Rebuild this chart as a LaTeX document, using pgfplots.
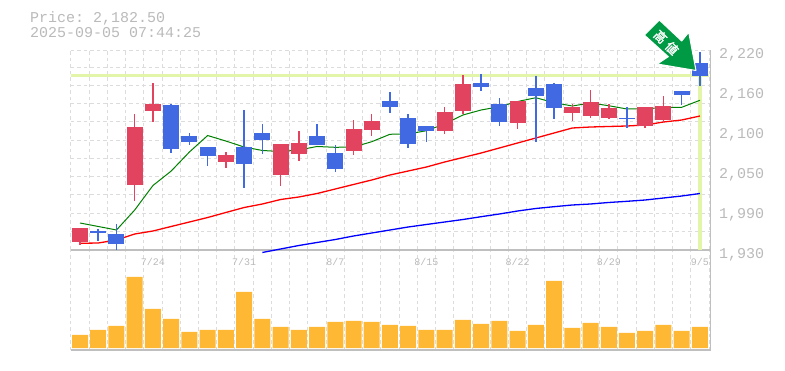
\documentclass[border=0pt]{standalone}
\usepackage{fontspec}
\usepackage{pgfplots}
\usepackage{pgfplotstable}
\pgfplotsset{compat=1.18}
\setmainfont{Liberation Mono}
\newfontfamily\cjk{Noto Sans CJK JP}[FakeBold=1.5,LetterSpace=30]
\definecolor{lab}{HTML}{BABABA}
\definecolor{gridc}{HTML}{DCDCDC}
\definecolor{axc}{HTML}{BFBFBF}
\definecolor{upc}{HTML}{E2435F}
\definecolor{dnc}{HTML}{4169E1}
\definecolor{volc}{HTML}{FFB833}
\definecolor{pricec}{HTML}{E3F5A8}
\definecolor{arrowc}{HTML}{009944}

\pgfplotstableread{
i open close low high
0 1941.6 1961.9 1937.3 1961.9
3 2024.25 2108.35 2001.05 2127.2
4 2131.55 2141.7 2115.6 2172.15
8 2057.6 2067.75 2048.9 2072.1
11 2038.75 2083.7 2022.8 2083.7
12 2069.2 2085.15 2059.05 2102.55
15 2073.55 2105.45 2067.75 2118.5
16 2104 2117.05 2095.3 2127.2
20 2102.55 2130.1 2098.2 2137.35
21 2131.55 2170.7 2127.2 2183.75
24 2114.15 2146.05 2105.45 2146.05
27 2128.65 2137.35 2117.05 2141.7
28 2124.3 2144.6 2121.4 2162
29 2121.4 2135.9 2119.95 2141.7
31 2109.8 2137.35 2106.9 2137.35
32 2118.5 2138.8 2115.6 2153.3
}\upcandles
\pgfplotstableread{
i open close low high
1 1957.6 1954.7 1943.1 1960.5
2 1953.2 1938.7 1930 1967.7
5 2140.25 2076.45 2070.65 2141.7
6 2095.3 2086.6 2082.25 2099.65
7 2079.35 2066.3 2051.8 2079.35
9 2079.35 2054.7 2019.9 2133
10 2099.65 2089.5 2069.2 2112.7
13 2095.3 2082.25 2082.25 2112.7
14 2070.65 2047.45 2043.1 2082.25
17 2146.05 2137.35 2128.65 2159.1
18 2121.4 2083.7 2077.9 2127.2
19 2109.8 2102.55 2086.6 2109.8
22 2172.15 2166.35 2160.55 2185.2
23 2141.7 2115.6 2109.8 2150.4
25 2164.9 2153.3 2086.6 2182.3
26 2170.7 2135.9 2119.95 2172.15
30 2122.1 2119.95 2106.9 2137.35
33 2160.55 2154.75 2140.25 2160.55
34 2201.15 2182.3 2167.8 2217.1
}\downcandles
\pgfplotstableread{
i green red
0 1969.15 1939.7
1 1964.1 1940.15
2 1959 1944.5
3 1988 1953.2
4 2023.5 1957.55
5 2044.5 1964.1
6 2072.1 1970.6
7 2096 1977.1
8 2088 1984.4
9 2079.35 1991.6
10 2074.3 1996.7
11 2072.8 2003.2
12 2075 2006.85
13 2080.1 2011.9
14 2078.9 2018.45
15 2079.35 2025
16 2087 2031.5
17 2097.8 2038.75
18 2098.2 2044.55
19 2103 2050.35
20 2112.7 2057.6
21 2125.75 2064.1
22 2133 2070.65
23 2137.8 2077.9
24 2145.3 2085.15
25 2150.8 2092.4
26 2143.6 2099.65
27 2138.8 2106.9
28 2143.15 2108.35
29 2139.2 2109.1
30 2134.45 2109.8
31 2134.45 2111.25
32 2136.9 2115.6
33 2136.9 2118.5
34 2147.1 2124.3
}\shortmas
\pgfplotstableread{
i blue
10 1926.4
11 1931.45
12 1936.5
13 1940.9
14 1945.2
15 1950.3
16 1954.65
17 1959
18 1963.35
19 1967
20 1970.6
21 1974.2
22 1978.3
23 1982.2
24 1986.55
25 1990.2
26 1992.8
27 1995.25
28 1996.7
29 1998.9
30 2000.6
31 2002.5
32 2005.4
33 2008.3
34 2011.9
}\longma
\pgfplotstableread{
i vol
0 13
1 18
2 22
3 71
4 39
5 29
6 16
7 18
8 18
9 56
10 29
11 21
12 18
13 21
14 26
15 27
16 26
17 23
18 22
19 18
20 18
21 28
22 24
23 27
24 17
25 23
26 67
27 20
28 25
29 21
30 15
31 17
32 23
33 17
34 21
}\volumes

\pgfplotsset{
  base/.style={
    scale only axis, width=639.6pt,
    xmin=-0.5, xmax=34.58,
    clip=false,
    axis x line*=bottom, axis y line*=right,
    axis line style={-, color=axc, line width=1.4pt},
    major tick length=0pt,
    xtick={-0.5,0.5,...,34.5},
    xticklabels={},
    xmajorgrids,
    grid style={color=gridc, line width=1pt, dash pattern=on 3.5pt off 3pt},
  },
  body/.style={draw=none, no markers, forget plot,
    error bars/.cd, y dir=both, y explicit, error mark=none,
    error bar style={color=#1, line width=16pt}},
  wick/.style={draw=none, no markers, forget plot,
    error bars/.cd, y dir=both, y explicit, error mark=none,
    error bar style={color=#1, line width=1.5pt}},
}

\begin{document}
\frenchspacing
\begin{tikzpicture}[x=1pt,y=1pt]
\useasboundingbox (0,0) rectangle (785,370);

% volume panel
\begin{axis}[base, at={(70.9pt,20pt)}, anchor=south west, height=100pt,
  ymin=-2, ymax=98, ytick=\empty]
\addplot[ybar, bar width=16pt, fill=volc, draw=none] table[x=i,y=vol]{\volumes};
\end{axis}

% price panel
\begin{axis}[base, at={(70.9pt,120pt)}, anchor=south west, height=200pt,
  ymin=1930, ymax=2220,
  ytick={2219,2193.9,2167.8,2141.7,2115.6,2088.05,2062,2035.85,2009.75,1982.2,1956.1},
  yticklabels={}, ymajorgrids,
  extra y ticks={2220,2162,2104,2046,1988,1930},
  extra y tick labels={{2,220},{2,160},{2,100},{2,050},{1,990},{1,930}},
  extra y tick style={grid=none, major tick length=0pt,
    tick label style={font=\fontsize{15}{15}\selectfont, color=lab, anchor=west, xshift=5pt, yshift=-5pt}},
  extra x ticks={4,9,14,19,24,29,34},
  extra x tick labels={7/24,7/31,8/7,8/15,8/22,8/29,9/5},
  extra x tick style={grid=none, major tick length=0pt,
    tick label style={font=\fontsize{10}{10}\selectfont, color=lab, anchor=center, yshift=-12pt}},
]
% current price lines
\addplot[color=pricec, line width=3.2pt, forget plot] coordinates {(-0.5,2182.5) (34.5,2182.5)};
\addplot[color=pricec, line width=3.2pt, forget plot] coordinates {(34,2182.5) (34,1930)};
% moving averages
\addplot[color=green!50!black, line width=1pt] table[x=i,y=green]{\shortmas};
\addplot[color=red, line width=1.3pt] table[x=i,y=red]{\shortmas};
\addplot[color=blue, line width=1.3pt] table[x=i,y=blue]{\longma};
% wicks
\addplot[wick=upc] table[x=i, y expr=(\thisrow{low}+\thisrow{high})/2, y error expr=(\thisrow{high}-\thisrow{low})/2]{\upcandles};
\addplot[wick=dnc] table[x=i, y expr=(\thisrow{low}+\thisrow{high})/2, y error expr=(\thisrow{high}-\thisrow{low})/2]{\downcandles};
% bodies
\addplot[body=upc] table[x=i, y expr=(\thisrow{open}+\thisrow{close})/2, y error expr=abs(\thisrow{close}-\thisrow{open})/2]{\upcandles};
\addplot[body=dnc] table[x=i, y expr=(\thisrow{open}+\thisrow{close})/2, y error expr=abs(\thisrow{close}-\thisrow{open})/2]{\downcandles};
\end{axis}

% header
\node[anchor=base west, inner sep=0pt, text=lab, font=\fontsize{15}{15}\selectfont] at (30,347.5) {Price: 2,182.50};
\node[anchor=base west, inner sep=0pt, text=lab, font=\fontsize{15}{15}\selectfont] at (30,332.5) {2025-09-05 07:44:25};

% arrow
\begin{scope}[yshift=370pt, y=-1pt]
\fill[arrowc, draw=white, line width=1pt, line join=round]
  (659.3,20) -- (681.7,41) -- (688.7,32.3) -- (696,70.5) -- (657.3,64) -- (668.3,56.7) -- (644.3,35) -- cycle;
\node[rotate=-45, text=white, inner sep=0pt, font=\cjk\fontsize{12.5}{12.5}\selectfont] at (666.2,42.5) {高値};
\end{scope}
\end{tikzpicture}
\end{document}
